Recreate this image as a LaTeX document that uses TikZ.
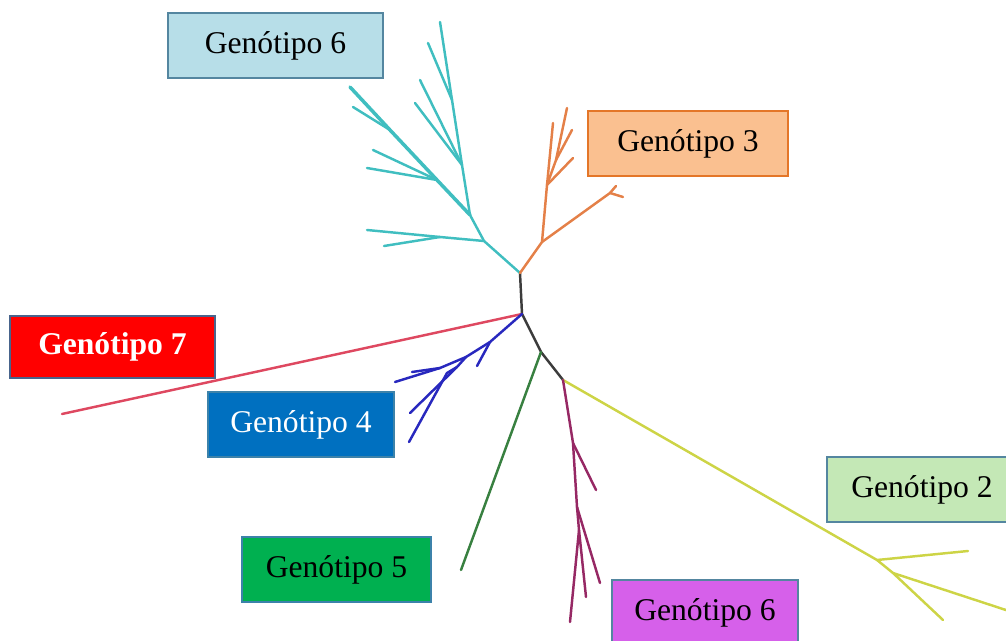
\documentclass[tikz,border=0pt]{standalone}
\usepackage{fontspec}
\setmainfont{Liberation Serif}
\begin{document}
\begin{tikzpicture}[x=0.02cm,y=-0.02cm,
  branch/.style={line width=1.4pt,line cap=round,line join=round},
  gbox/.style={draw,line width=0.7pt,inner sep=0pt,font=\fontsize{18}{20}\selectfont},
  cyanbr/.style={branch,draw={rgb,255:red,64;green,190;blue,192}},
  orangebr/.style={branch,draw={rgb,255:red,228;green,128;blue,72}},
  blackbr/.style={branch,draw={rgb,255:red,60;green,60;blue,60}},
  redbr/.style={branch,draw={rgb,255:red,222;green,72;blue,96}},
  bluebr/.style={branch,draw={rgb,255:red,40;green,40;blue,190}},
  greenbr/.style={branch,draw={rgb,255:red,56;green,128;blue,64}},
  yellowbr/.style={branch,draw={rgb,255:red,205;green,212;blue,70}},
  magentabr/.style={branch,draw={rgb,255:red,150;green,40;blue,100}}]
\useasboundingbox (0,0) rectangle (1006,641);
\clip (0,0) rectangle (1006,641);

% internal nodes of the tree
\coordinate (c0) at (522,314);
\coordinate (c1) at (520,273);
\coordinate (c2) at (541,352);
\coordinate (c3) at (563,380);

% central stem
\draw[blackbr] (c1) -- (c0) -- (c2) -- (c3);

% cyan clade
\coordinate (k1) at (484,241);
\coordinate (k2) at (470,215);
\coordinate (k3) at (437,180);
\coordinate (k4) at (462,165);
\coordinate (k5) at (390,130);
\coordinate (k6) at (452,100);
\coordinate (k7) at (440,237);
\draw[cyanbr] (c1) -- (k1) -- (k2);
\draw[cyanbr] (k1) -- (k7);
\draw[cyanbr] (k7) -- (367,230);
\draw[cyanbr] (k7) -- (384,246);
\draw[cyanbr,line width=2pt] (k2) -- (k3) -- (k5) -- (350,87);
\draw[cyanbr] (k5) -- (353,107);
\draw[cyanbr] (k3) -- (373,150);
\draw[cyanbr] (k3) -- (367,168);
\draw[cyanbr] (k2) -- (k4) -- (k6) -- (440,22);
\draw[cyanbr] (k6) -- (428,43);
\draw[cyanbr] (k4) -- (420,80);
\draw[cyanbr] (k4) -- (415,103);

% orange clade
\coordinate (o1) at (542,242);
\coordinate (o2) at (547,185);
\coordinate (o3) at (556,160);
\coordinate (o4) at (610,193);
\draw[orangebr] (c1) -- (o1) -- (o4);
\draw[orangebr] (o4) -- (623,197);
\draw[orangebr] (o4) -- (616,186);
\draw[orangebr] (o1) -- (o2) -- (553,123);
\draw[orangebr] (o2) -- (o3) -- (567,108);
\draw[orangebr] (o3) -- (572,130);
\draw[orangebr] (o2) -- (573,158);

% red clade
\draw[redbr] (c0) -- (62,414);

% blue clade
\coordinate (b1) at (490,342);
\coordinate (b2) at (466,357);
\coordinate (b3) at (457,367);
\coordinate (b4) at (447,373);
\coordinate (b5) at (440,368);
\draw[bluebr] (c0) -- (b1) -- (b2) -- (b3) -- (b4);
\draw[bluebr] (b1) -- (477,366);
\draw[bluebr] (b2) -- (b5) -- (395,382);
\draw[bluebr] (b5) -- (412,372);
\draw[bluebr] (b3) -- (410,413);
\draw[bluebr] (b4) -- (409,442);

% green clade
\draw[greenbr] (c2) -- (461,570);

% yellow clade
\coordinate (y1) at (877,560);
\coordinate (y2) at (893,573);
\draw[yellowbr] (c3) -- (y1) -- (968,551);
\draw[yellowbr] (y1) -- (y2) -- (943,620);
\draw[yellowbr] (y2) -- (1012,612);

% magenta clade
\coordinate (m1) at (573,443);
\coordinate (m2) at (577,507);
\coordinate (m3) at (579,530);
\draw[magentabr] (c3) -- (m1) -- (596,490);
\draw[magentabr] (m1) -- (m2) -- (600,583);
\draw[magentabr] (m2) -- (m3) -- (586,597);
\draw[magentabr] (m3) -- (570,622);

% labels
\node[gbox,fill={rgb,255:red,183;green,222;blue,232},draw={rgb,255:red,84;green,134;blue,160},
  minimum width=4.3cm,minimum height=1.3cm] (g6a) at (275.5,45.5) {Genótipo 6};
\node[gbox,fill={rgb,255:red,250;green,192;blue,144},draw={rgb,255:red,228;green,118;blue,40},
  minimum width=4.0cm,minimum height=1.3cm] (g3) at (688,143.5) {Genótipo 3};
\node[gbox,fill={rgb,255:red,255;green,0;blue,0},draw={rgb,255:red,72;green,100;blue,140},text=white,
  font=\fontsize{18}{20}\selectfont\bfseries,
  minimum width=4.1cm,minimum height=1.24cm] (g7) at (112.5,347) {Genótipo 7};
\node[gbox,fill={rgb,255:red,0;green,112;blue,192},draw={rgb,255:red,60;green,130;blue,170},text=white,
  minimum width=3.72cm,minimum height=1.3cm] (g4) at (301,424.5) {Genótipo 4};
\node[gbox,fill={rgb,255:red,196;green,232;blue,182},draw={rgb,255:red,84;green,134;blue,160},
  minimum width=3.8cm,minimum height=1.3cm] (g2) at (922,489.5) {Genótipo 2};
\node[gbox,fill={rgb,255:red,0;green,176;blue,80},draw={rgb,255:red,60;green,130;blue,170},
  minimum width=3.78cm,minimum height=1.3cm] (g5) at (336.5,569.5) {Genótipo 5};
\node[gbox,fill={rgb,255:red,214;green,96;blue,234},draw={rgb,255:red,84;green,134;blue,160},
  minimum width=3.72cm,minimum height=1.3cm] (g6b) at (705,612.5) {Genótipo 6};
\end{tikzpicture}
\end{document}
